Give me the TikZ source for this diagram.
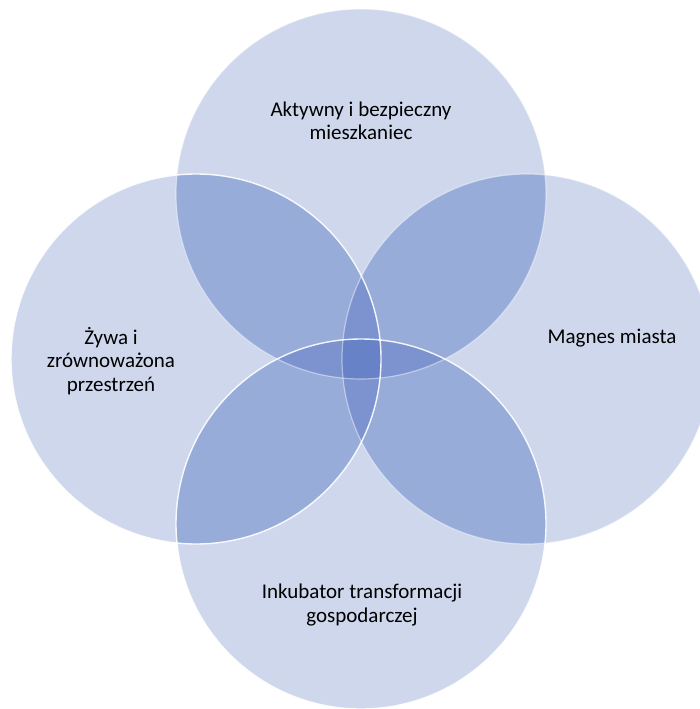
\documentclass[tikz,border=0pt]{standalone}
\usepackage{fontspec}
\setmainfont{Carlito}
\definecolor{cA}{RGB}{206,215,236}
\definecolor{cB}{RGB}{152,172,218}
\definecolor{cC}{RGB}{124,147,207}
\definecolor{cD}{RGB}{104,130,199}
\tikzset{
  lbl/.style={font=\fontsize{21}{23.5}\selectfont, align=center, text=black, inner sep=0pt},
  rimhi/.style={draw=white, line width=1.4pt, opacity=0.9},
  rimlo/.style={draw=white, line width=1.2pt, opacity=0.45}
}
\begin{document}
\begin{tikzpicture}[x=1pt,y=-1pt]
\useasboundingbox (0,0) rectangle (700,709);
\clip (0,0) rectangle (700,709);
\def\R{185pt}
\coordinate (T) at (361,194);
\coordinate (B) at (361,524);
\coordinate (L) at (196,359);
\coordinate (R) at (527,359);
% single layer
\foreach \a in {T,R,B,L} { \fill[cA] (\a) circle (\R); }
% two layers
\foreach \a/\b in {T/L,T/R,B/L,B/R,T/B,L/R} {
  \begin{scope}
    \clip (\a) circle (\R);
    \fill[cB] (\b) circle (\R);
  \end{scope}
}
% three layers
\foreach \a/\b/\c in {T/L/R,B/L/R,T/B/L,T/B/R} {
  \begin{scope}
    \clip (\a) circle (\R);
    \clip (\b) circle (\R);
    \fill[cC] (\c) circle (\R);
  \end{scope}
}
% four layers
\begin{scope}
  \clip (T) circle (\R);
  \clip (L) circle (\R);
  \clip (R) circle (\R);
  \fill[cD] (B) circle (\R);
\end{scope}
% rims
\draw[rimlo] (T) circle (\R);
\draw[rimlo] (R) circle (\R);
\draw[rimhi] (B) circle (\R);
\draw[rimhi] (L) circle (\R);
% labels
\node[lbl] (tT) at (361,121) {Aktywny i bezpieczny\\mieszkaniec};
\node[lbl] (tL) at (111,361) {Żywa i\\zrównoważona\\przestrzeń};
\node[lbl] (tR) at (612,338) {Magnes miasta};
\node[lbl] (tB) at (362,605) {Inkubator transformacji\\gospodarczej};
\end{tikzpicture}
\end{document}
